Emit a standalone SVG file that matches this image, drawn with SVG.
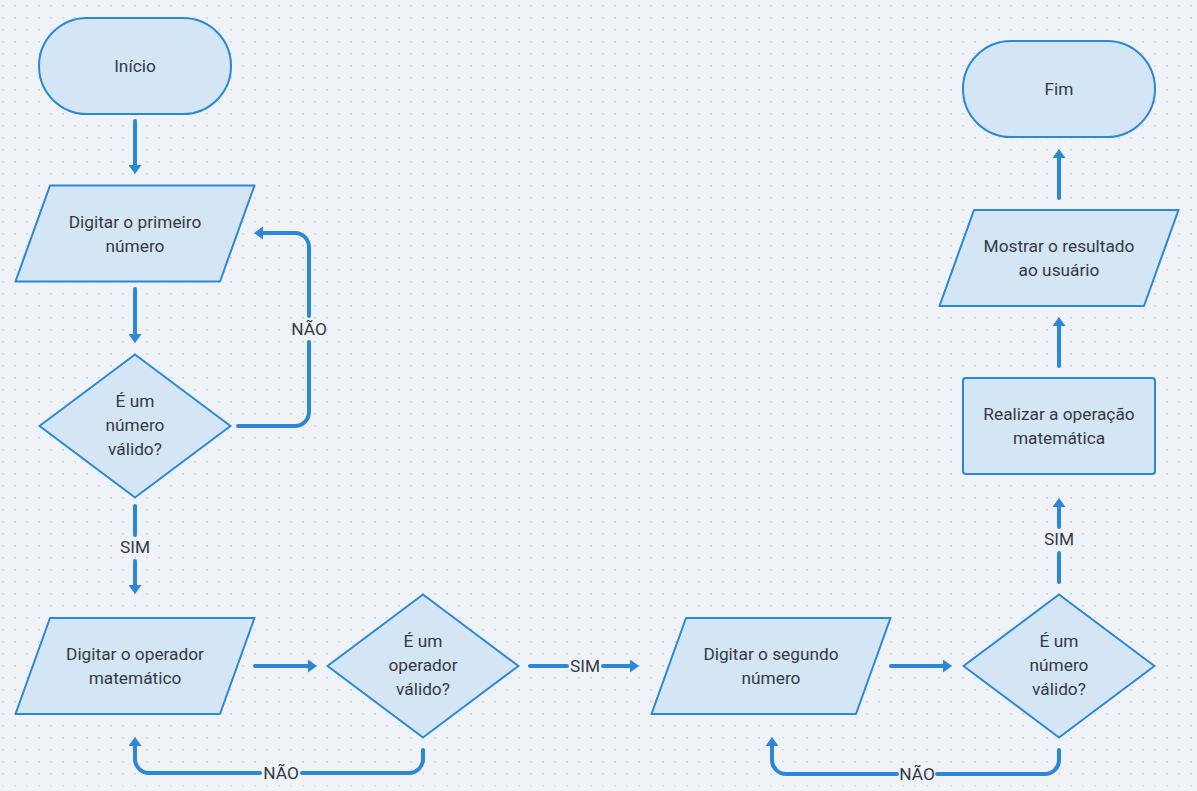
<svg xmlns="http://www.w3.org/2000/svg" width="1197" height="791" viewBox="0 0 1197 791">
  <defs>
    <pattern id="dots" patternUnits="userSpaceOnUse" x="0" y="0" width="12" height="12">
      <rect x="2" y="5" width="2" height="1.4" fill="#cdd3da"/>
    </pattern>
    <marker id="arrow" viewBox="0 0 9 13" refX="0.5" refY="6.5" markerWidth="9" markerHeight="13" markerUnits="userSpaceOnUse" orient="auto">
      <path d="M0,0 L9,6.5 L0,13 z" fill="#2b87d8"/>
    </marker>
    <style>
      .node { fill: #d4e5f6; stroke: #2b87d8; stroke-width: 2; stroke-linejoin: round; }
      .lbl { font-family: Roboto, "Liberation Sans", sans-serif; font-size: 17.3px; fill: #343a44; text-anchor: middle; }
      .edge { fill: none; stroke: #2b87d8; stroke-width: 4; stroke-linecap: round; stroke-linejoin: round; }
      .arr { marker-end: url(#arrow); }
    </style>
  </defs>
  <rect width="1197" height="791" fill="#eff3f7"/>
  <rect width="1197" height="791" fill="url(#dots)"/>

  <g id="connectors">
    <path class="edge arr" d="M135,121 L135,165.5"/>
    <path class="edge arr" d="M135,289 L135,334.5"/>
    <path class="edge" d="M135,506 L135,535"/>
    <path class="edge arr" d="M135,561 L135,585.5"/>
    <path class="edge" d="M238,426 L295,426 A14,14 0 0 0 309,412 L309,342"/>
    <path class="edge arr" d="M309,316 L309,247 A14,14 0 0 0 295,233 L262.5,233"/>
    <path class="edge arr" d="M255,666 L308.5,666"/>
    <path class="edge" d="M423,750 L423,759 A14,14 0 0 1 409,773 L302,773"/>
    <path class="edge arr" d="M260,773 L149,773 A14,14 0 0 1 135,759 L135,745.5"/>
    <path class="edge" d="M530,666 L567,666"/>
    <path class="edge arr" d="M603,666 L630.5,666"/>
    <path class="edge arr" d="M891,666 L943.5,666"/>
    <path class="edge" d="M1059,750 L1059,760 A14,14 0 0 1 1045,774 L937,774"/>
    <path class="edge arr" d="M897,774 L786,774 A14,14 0 0 1 772,760 L772,745.5"/>
    <path class="edge" d="M1059,582 L1059,553"/>
    <path class="edge arr" d="M1059,527 L1059,506.5"/>
    <path class="edge arr" d="M1059,366 L1059,325.5"/>
    <path class="edge arr" d="M1059,198 L1059,157.5"/>
    <text class="lbl" x="309" y="335">NÃO</text>
    <text class="lbl" x="135" y="553">SIM</text>
    <text class="lbl" x="281" y="779">NÃO</text>
    <text class="lbl" x="585" y="672">SIM</text>
    <text class="lbl" x="917" y="780">NÃO</text>
    <text class="lbl" x="1059" y="545">SIM</text>
  </g>

  <g id="inicio">
    <rect class="node" x="39" y="18" width="192" height="96" rx="48"/>
    <text class="lbl" x="135" y="72">Início</text>
  </g>
  <g id="digitar-primeiro">
    <polygon class="node" points="50,185.5 254.5,185.5 220,281.5 15.5,281.5"/>
    <text class="lbl" x="135" y="227.5">Digitar o primeiro</text>
    <text class="lbl" x="135" y="251.5">número</text>
  </g>
  <g id="valido-1">
    <polygon class="node" points="135,354.5 230.5,426 135,497.5 39.5,426"/>
    <text class="lbl" x="135" y="407">É um</text>
    <text class="lbl" x="135" y="431">número</text>
    <text class="lbl" x="135" y="455">válido?</text>
  </g>
  <g id="digitar-operador">
    <polygon class="node" points="50,618 254.5,618 220,714 15.5,714"/>
    <text class="lbl" x="135" y="659.5">Digitar o operador</text>
    <text class="lbl" x="135" y="683.5">matemático</text>
  </g>
  <g id="operador-valido">
    <polygon class="node" points="423,594.5 518.5,666 423,737.5 327.5,666"/>
    <text class="lbl" x="423" y="647">É um</text>
    <text class="lbl" x="423" y="671">operador</text>
    <text class="lbl" x="423" y="695">válido?</text>
  </g>
  <g id="digitar-segundo">
    <polygon class="node" points="686,618 890.5,618 856,714 651.5,714"/>
    <text class="lbl" x="771" y="659.5">Digitar o segundo</text>
    <text class="lbl" x="771" y="683.5">número</text>
  </g>
  <g id="valido-2">
    <polygon class="node" points="1059,594.5 1154.5,666 1059,737.5 963.5,666"/>
    <text class="lbl" x="1059" y="647">É um</text>
    <text class="lbl" x="1059" y="671">número</text>
    <text class="lbl" x="1059" y="695">válido?</text>
  </g>
  <g id="realizar">
    <rect class="node" x="963" y="378" width="192" height="96" rx="3"/>
    <text class="lbl" x="1059" y="419.5">Realizar a operação</text>
    <text class="lbl" x="1059" y="443.5">matemática</text>
  </g>
  <g id="mostrar">
    <polygon class="node" points="974,210 1178.5,210 1144,306 939.5,306"/>
    <text class="lbl" x="1059" y="251.5">Mostrar o resultado</text>
    <text class="lbl" x="1059" y="275.5">ao usuário</text>
  </g>
  <g id="fim">
    <rect class="node" x="963" y="41" width="192" height="96" rx="48"/>
    <text class="lbl" x="1059" y="95">Fim</text>
  </g>
</svg>
